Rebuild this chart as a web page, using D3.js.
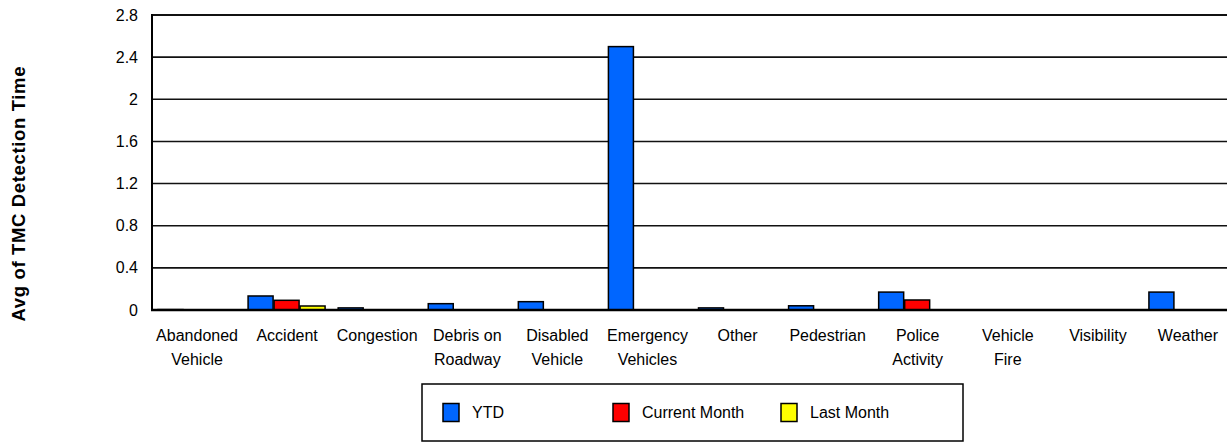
<!DOCTYPE html>
<html>
<head>
<meta charset="utf-8">
<script src="https://cdn.jsdelivr.net/npm/d3@7"></script>
<style>
  body { margin: 0; background: #fff; }
  text { font-family: "Liberation Sans", Arial, sans-serif; fill: #000; }
</style>
</head>
<body>
<div id="chart"></div>
<script>
// chart data
var categories = ["Abandoned Vehicle", "Accident", "Congestion", "Debris on Roadway",
    "Disabled Vehicle", "Emergency Vehicles", "Other", "Pedestrian", "Police Activity",
    "Vehicle Fire", "Visibility", "Weather"];
var categoryLines = [["Abandoned", "Vehicle"], ["Accident"], ["Congestion"], ["Debris on", "Roadway"],
    ["Disabled", "Vehicle"], ["Emergency", "Vehicles"], ["Other"], ["Pedestrian"], ["Police", "Activity"],
    ["Vehicle", "Fire"], ["Visibility"], ["Weather"]];
var seriesNames = ["YTD", "Current Month", "Last Month"];
var ytd = [0.004, 0.133, 0.02, 0.06, 0.079, 2.5, 0.02, 0.04, 0.17, 0, 0, 0.17];
var currentMonth = [0, 0.092, 0, 0, 0, 0, 0, 0, 0.095, 0, 0, 0];
var lastMonth = [0, 0.038, 0, 0, 0, 0, 0, 0, 0, 0, 0, 0];
var yTicks = [0, 0.4, 0.8, 1.2, 1.6, 2, 2.4, 2.8];
var yTickLabels = ["0", "0.4", "0.8", "1.2", "1.6", "2", "2.4", "2.8"];
var yTitle = "Avg of TMC Detection Time";

var colors = ["#0066ff", "#ff0000", "#ffff00"];
var seriesValues = [ytd, currentMonth, lastMonth];

var W = 1227, H = 443;
var plotLeft = 152, plotRight = 1233, plotTop = 15, plotBottom = 310;

var svg = d3.select("#chart").append("svg")
    .attr("width", W)
    .attr("height", H);

var x = d3.scaleBand().domain(categories).range([plotLeft, plotRight]).padding(0);
var xs = d3.scaleBand().domain(seriesNames).range([6, 84]).padding(0);
var y = d3.scaleLinear().domain([0, 2.8]).range([plotBottom, plotTop]);

// grid lines
svg.append("g").selectAll("line")
    .data(yTicks.filter(function(d){ return d > 0; }))
    .enter().append("line")
    .attr("x1", plotLeft).attr("x2", plotRight)
    .attr("y1", function(d){ return y(d); })
    .attr("y2", function(d){ return y(d); })
    .attr("stroke", "#111")
    .attr("stroke-width", function(d){ return d === 2.8 ? 2 : 1.6; });

// bars
var rows = [];
categories.forEach(function(c, i) {
    seriesNames.forEach(function(s, j) {
        if (seriesValues[j][i] > 0) rows.push({cat: c, series: s, value: seriesValues[j][i], k: j});
    });
});
svg.append("g").selectAll("rect")
    .data(rows)
    .enter().append("rect")
    .attr("x", function(d){ return x(d.cat) + xs(d.series); })
    .attr("y", function(d){ return y(d.value); })
    .attr("width", xs.bandwidth() - 1)
    .attr("height", function(d){ return plotBottom - y(d.value); })
    .attr("fill", function(d){ return colors[d.k]; })
    .attr("stroke", "#000")
    .attr("stroke-width", 1.5);

// y axis
var yAxis = d3.axisLeft(y)
    .tickValues(yTicks)
    .tickFormat(function(d, i){ return yTickLabels[i]; })
    .tickSize(0)
    .tickPadding(14);
var ya = svg.append("g").attr("transform", "translate(" + plotLeft + ",0)").call(yAxis);
ya.select(".domain").remove();
ya.selectAll("text")
    .style("font-family", "'Liberation Sans', Arial, sans-serif")
    .style("font-size", "16px")
    .attr("fill", "#000");

svg.append("line")
    .attr("x1", plotLeft).attr("x2", plotLeft)
    .attr("y1", plotTop - 1).attr("y2", plotBottom + 1)
    .attr("stroke", "#000").attr("stroke-width", 2);
svg.append("line")
    .attr("x1", plotLeft - 1).attr("x2", plotRight)
    .attr("y1", plotBottom).attr("y2", plotBottom)
    .attr("stroke", "#000").attr("stroke-width", 2.5);

// category labels
var xl = svg.append("g").selectAll("text")
    .data(categories)
    .enter().append("text")
    .attr("text-anchor", "middle")
    .style("font-size", "16px");
xl.each(function(c, i) {
    var t = d3.select(this);
    categoryLines[i].forEach(function(line, k) {
        t.append("tspan")
            .attr("x", x(c) + x.bandwidth() / 2)
            .attr("y", 340.5 + k * 24)
            .text(line);
    });
});

// y title
svg.append("text")
    .attr("transform", "translate(25,194) rotate(-90)")
    .attr("text-anchor", "middle")
    .attr("textLength", 255)
    .attr("lengthAdjust", "spacing")
    .style("font-size", "18.5px")
    .style("font-weight", "bold")
    .text(yTitle);

// legend
var legend = svg.append("g");
legend.append("rect")
    .attr("x", 422).attr("y", 384)
    .attr("width", 541).attr("height", 57)
    .attr("fill", "none").attr("stroke", "#000").attr("stroke-width", 1.5);
var legendX = [443, 613, 781];
seriesNames.forEach(function(s, i) {
    legend.append("rect")
        .attr("x", legendX[i]).attr("y", 403.5)
        .attr("width", 16).attr("height", 18)
        .attr("fill", colors[i]).attr("stroke", "#000").attr("stroke-width", 1.5);
    legend.append("text")
        .attr("x", legendX[i] + 29).attr("y", 418)
        .style("font-size", "16px")
        .text(s);
});
</script>
</body>
</html>
